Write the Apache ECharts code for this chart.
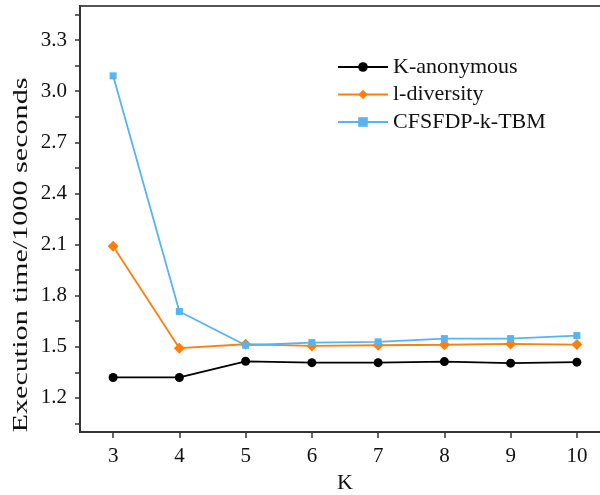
<!DOCTYPE html>
<html>
<head>
<meta charset="utf-8">
<script src="https://cdn.jsdelivr.net/npm/echarts@6/dist/echarts.min.js"></script>
<style>
    html, body { margin: 0; padding: 0; background: #fff; }
    #chart { width: 600px; height: 495px; }
</style>
</head>
<body>
<div id="chart"></div>
<script>
const kValues = [3, 4, 5, 6, 7, 8, 9, 10];
const kAnonymous = [1.32, 1.32, 1.415, 1.407, 1.407, 1.413, 1.404, 1.41];
const lDiversity = [2.09, 1.492, 1.515, 1.505, 1.509, 1.512, 1.517, 1.513];
const cfsfdp = [3.09, 1.707, 1.509, 1.525, 1.529, 1.548, 1.548, 1.566];
const yTickLabels = [1.2, 1.5, 1.8, 2.1, 2.4, 2.7, 3.0, 3.3];
const yTicks = [1.05, 1.2, 1.35, 1.5, 1.65, 1.8, 1.95, 2.1, 2.25, 2.4, 2.55, 2.7, 2.85, 3.0, 3.15, 3.3, 3.45];

const font = "'Liberation Serif', 'Times New Roman', serif";
const chart = echarts.init(document.getElementById('chart'));

const pairs = (ys) => kValues.map((k, i) => [k, ys[i]]);

const option = {
    animation: false,
    grid: {
        left: 80,
        top: 6,
        width: 530,
        bottom: 63,
        outerBoundsMode: 'none',
        show: true,
        borderColor: '#555',
        borderWidth: 2
    },
    // y-axis title: the original is stretched along its length, so draw it as a scaled text
    graphic: [{
        type: 'text',
        x: 21,
        y: 255,
        rotation: Math.PI / 2,
        scaleX: 1.37,
        style: {
            text: 'Execution time/1000 seconds',
            font: '22px ' + font,
            fill: '#111',
            align: 'center',
            verticalAlign: 'middle'
        }
    }],
    legend: {
        left: 332,
        top: 51,
        orient: 'vertical',
        itemWidth: 50,
        itemHeight: 12,
        itemGap: 5.5,
        textStyle: { fontFamily: font, fontSize: 22, color: '#111', lineHeight: 22 },
        data: ['K-anonymous', 'l-diversity', 'CFSFDP-k-TBM']
    },
    xAxis: {
        type: 'value',
        min: 2.5,
        max: 10.5,
        name: 'K',
        nameLocation: 'middle',
        nameGap: 40,
        nameTextStyle: { fontFamily: font, fontSize: 22, color: '#111' },
        axisLine: { lineStyle: { color: '#333', width: 2 } },
        axisTick: { customValues: kValues, length: 6, lineStyle: { color: '#333', width: 1.5 } },
        axisLabel: { customValues: kValues, margin: 14, fontFamily: font, fontSize: 21, color: '#111' },
        splitLine: { show: false }
    },
    yAxis: {
        type: 'value',
        min: 1.0,
        max: 3.5,
        axisLine: { show: true, lineStyle: { color: '#333', width: 2 } },
        axisTick: { show: true, customValues: yTicks, length: 5, lineStyle: { color: '#333', width: 1.5 } },
        axisLabel: {
            customValues: yTickLabels,
            margin: 13,
            fontFamily: font,
            fontSize: 21,
            color: '#111',
            formatter: (v) => v.toFixed(1)
        },
        splitLine: { show: false }
    },
    series: [
        {
            name: 'K-anonymous',
            type: 'line',
            data: pairs(kAnonymous),
            symbol: 'circle',
            symbolSize: 9,
            color: '#000',
            lineStyle: { width: 1.8 }
        },
        {
            name: 'l-diversity',
            type: 'line',
            data: pairs(lDiversity),
            symbol: 'diamond',
            symbolSize: 11,
            color: '#FF7F0E',
            lineStyle: { width: 1.8 }
        },
        {
            name: 'CFSFDP-k-TBM',
            type: 'line',
            data: pairs(cfsfdp),
            symbol: 'rect',
            symbolSize: 7,
            color: '#55B5F2',
            lineStyle: { width: 1.8 }
        }
    ]
};

chart.setOption(option);
</script>
</body>
</html>
